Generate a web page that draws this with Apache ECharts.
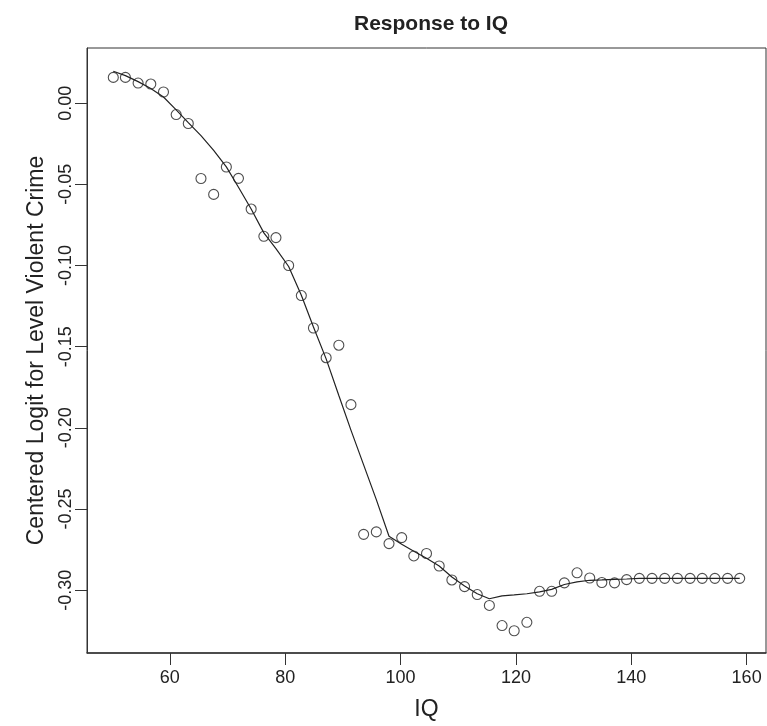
<!DOCTYPE html>
<html>
<head>
<meta charset="utf-8">
<script src="https://cdn.jsdelivr.net/npm/echarts@6/dist/echarts.min.js"></script>
<style>
html,body{margin:0;padding:0;background:#fff;}
#chart{width:767px;height:726px;}
</style>
</head>
<body>
<div id="chart"></div>
<script>
var iq = [50.2,52.3,54.5,56.7,58.9,61.1,63.2,65.4,67.6,69.8,71.9,74.1,76.3,78.4,80.6,82.8,84.9,87.1,89.3,91.4,93.6,95.8,98.0,100.2,102.3,104.5,106.7,108.9,111.1,113.3,115.4,117.6,119.7,121.9,124.1,126.2,128.4,130.6,132.8,134.9,137.1,139.2,141.4,143.6,145.8,148.0,150.2,152.3,154.5,156.7,158.8];
var observed = [0.0159,0.0159,0.0124,0.0118,0.0069,-0.0070,-0.0125,-0.0464,-0.0562,-0.0393,-0.0463,-0.0652,-0.0820,-0.0828,-0.1000,-0.1185,-0.1385,-0.1568,-0.1491,-0.1857,-0.2656,-0.2641,-0.2713,-0.2676,-0.2789,-0.2774,-0.2851,-0.2937,-0.2978,-0.3027,-0.3094,-0.3218,-0.3250,-0.3198,-0.3007,-0.3007,-0.2955,-0.2893,-0.2925,-0.2953,-0.2955,-0.2935,-0.2927,-0.2927,-0.2927,-0.2927,-0.2927,-0.2927,-0.2927,-0.2927,-0.2927];
var fitted = [0.0197,0.0170,0.0133,0.0090,0.0038,-0.0041,-0.0120,-0.0200,-0.0291,-0.0392,-0.0518,-0.0652,-0.0799,-0.0896,-0.1006,-0.1183,-0.1379,-0.1575,-0.1801,-0.2014,-0.2228,-0.2442,-0.2668,-0.2717,-0.2760,-0.2803,-0.2851,-0.2919,-0.2974,-0.3022,-0.3053,-0.3035,-0.3029,-0.3022,-0.3010,-0.2995,-0.2965,-0.2949,-0.2939,-0.2937,-0.2934,-0.2931,-0.2927,-0.2927,-0.2927,-0.2927,-0.2927,-0.2927,-0.2927,-0.2927,-0.2927];
var xTicks = [60,80,100,120,140,160];
var yTicks = [0,-0.05,-0.10,-0.15,-0.20,-0.25,-0.30];

var pts = iq.map(function(x,i){return [x, observed[i]];});
var line = iq.map(function(x,i){return [x, fitted[i]];});
var font = '"Liberation Sans", Arial, Helvetica, sans-serif';
var ink = '#222';

var chart = echarts.init(document.getElementById('chart'), null, {renderer:'canvas'});
chart.setOption({
  animation:false,
  backgroundColor:'#fff',
  title:{
    text:'Response to IQ',
    left:426, top:9, textAlign:'center',
    textStyle:{fontFamily:font,fontSize:21,fontWeight:'bold',color:ink}
  },
  grid:{left:87,right:1,top:48,bottom:68,show:true,borderColor:'#333',borderWidth:1,backgroundColor:'transparent'},
  xAxis:{
    type:'value', min:45.64, max:163.36,
    name:'IQ', nameLocation:'middle', nameGap:45,
    nameTextStyle:{fontFamily:font,fontSize:23,color:ink},
    axisLine:{show:true,onZero:false,lineStyle:{color:'#333',width:1.5}},
    axisTick:{show:true,inside:false,length:12,customValues:xTicks,lineStyle:{color:'#333'}},
    axisLabel:{show:true,margin:16,customValues:xTicks,fontFamily:font,fontSize:18,color:ink},
    splitLine:{show:false}
  },
  yAxis:{
    type:'value', min:-0.3387, max:0.034,
    name:'Centered Logit for Level Violent Crime', nameLocation:'middle', nameGap:39, nameRotate:90,
    nameTextStyle:{fontFamily:font,fontSize:23,color:ink},
    axisLine:{show:true,onZero:false,lineStyle:{color:'#333',width:1}},
    axisTick:{show:true,inside:false,length:12,customValues:yTicks,lineStyle:{color:'#333'}},
    axisLabel:{show:true,rotate:90,margin:12,customValues:yTicks,fontFamily:font,fontSize:18,color:ink,
      formatter:function(v){return v.toFixed(2);}},
    splitLine:{show:false}
  },
  series:[
    {type:'line',data:line,showSymbol:false,smooth:false,lineStyle:{color:ink,width:1.2},z:2},
    {type:'scatter',data:pts,symbol:'circle',symbolSize:10,
      itemStyle:{color:'rgba(0,0,0,0)',borderColor:ink,borderWidth:1.1},z:3}
  ]
});
</script>
</body>
</html>
